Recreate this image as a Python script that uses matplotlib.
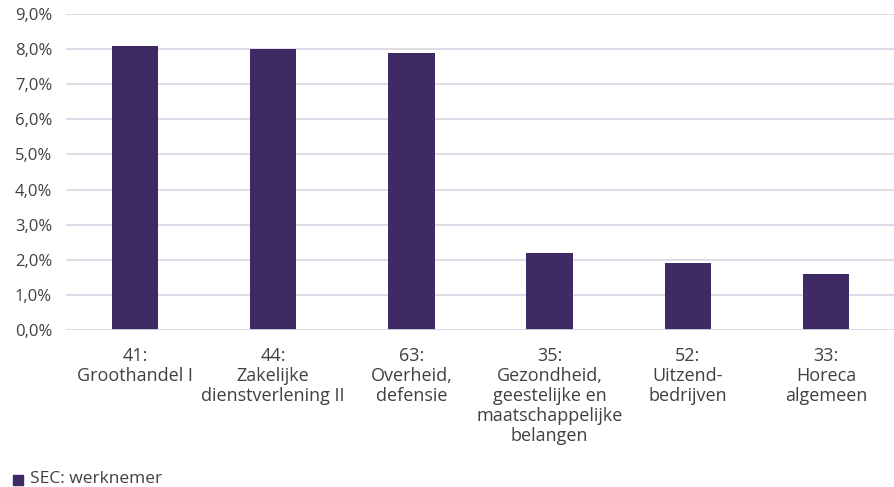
import matplotlib
matplotlib.use("Agg")
import matplotlib.pyplot as plt
from matplotlib.patches import Rectangle
from matplotlib.ticker import FuncFormatter

categories = [
    "41:\nGroothandel I",
    "44:\nZakelijke\ndienstverlening II",
    "63:\nOverheid,\ndefensie",
    "35:\nGezondheid,\ngeestelijke en\nmaatschappelijke\nbelangen",
    "52:\nUitzend-\nbedrijven",
    "33:\nHoreca\nalgemeen",
]
values = [8.1, 8.0, 7.9, 2.2, 1.9, 1.6]
series_label = "SEC: werknemer"
yticks = [0, 1, 2, 3, 4, 5, 6, 7, 8, 9]

BAR = "#3e2a64"
GRID = "#d9d6e4"
TEXT = "#404040"

plt.rcParams["font.family"] = ["Open Sans", "DejaVu Sans"]

fig = plt.figure(figsize=(8.95, 4.87), dpi=100)
ax = fig.add_axes([66 / 895, 1 - 330 / 487, 1 - 66 / 895, (330 - 14) / 487])

x = range(len(categories))
ax.bar(x, values, width=0.335, color=BAR, zorder=3)
ax.set_xlim(-0.5, len(categories) - 0.5)
ax.set_ylim(0, 9)
ax.set_yticks(yticks)
ax.yaxis.set_major_formatter(FuncFormatter(lambda v, _: f"{v:.1f}%".replace(".", ",")))
ax.set_xticks(list(x))
ax.set_xticklabels(categories, fontsize=13, color=TEXT, linespacing=1.15)
ax.tick_params(axis="y", labelsize=12, labelcolor=TEXT, length=0, pad=10)
ax.tick_params(axis="x", length=0, pad=12)
ax.grid(axis="y", color=GRID, linewidth=1.2, zorder=0)
for s in ax.spines.values():
    s.set_visible(False)
ax.axhline(0, color=GRID, linewidth=2, zorder=4)

# legend
fig.patches.append(Rectangle((13 / 895, 1 - 485 / 487), 10 / 895, 10 / 487,
                             transform=fig.transFigure, color=BAR))
fig.text(30 / 895, 1 - 479 / 487, series_label, fontsize=12.5, color=TEXT, va="center")

fig.savefig("out.png", dpi=100)
